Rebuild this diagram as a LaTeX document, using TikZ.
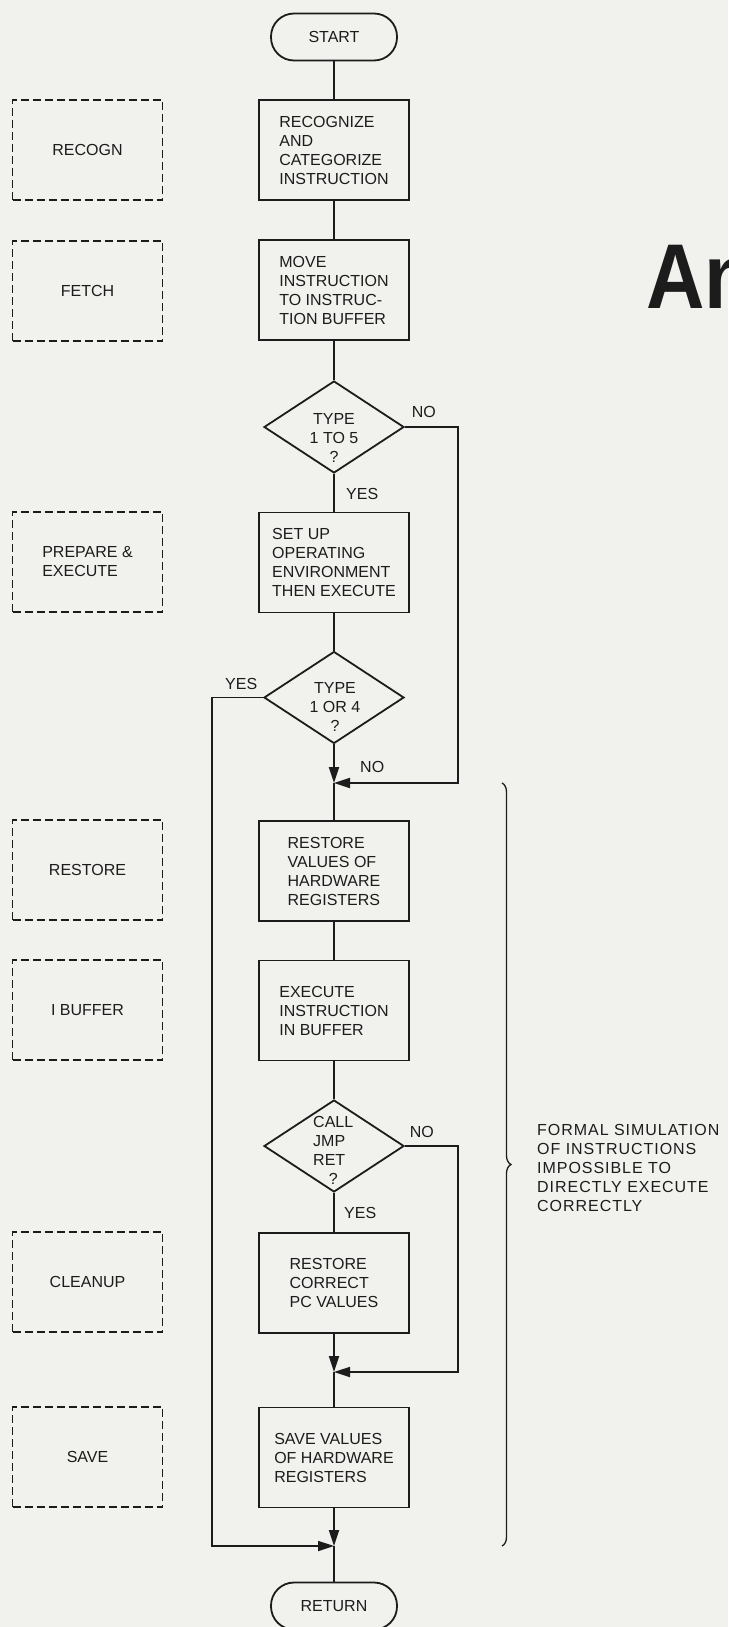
\documentclass[tikz,border=0pt]{standalone}
\usepackage{fontspec}
\setmainfont{Liberation Sans}
\usetikzlibrary{arrows.meta,positioning,shapes.geometric,decorations.pathreplacing}
\definecolor{ink}{HTML}{1C1C1C}
\definecolor{paper}{HTML}{F1F1EE}
\newcommand{\lettering}{\fontsize{16}{19}\selectfont}

\begin{document}
\begin{tikzpicture}[x=1pt,y=-1pt,
 proc/.style={draw=ink,line width=1.8pt,minimum width=150pt,minimum height=100pt,align=left,font=\lettering,text=ink},
 phase/.style={draw=ink,line width=1.7pt,dash pattern=on 8pt off 4pt,minimum width=150pt,minimum height=100pt,align=left,font=\lettering,text=ink},
 term/.style={draw=ink,line width=1.8pt,rounded corners=23pt,minimum width=126pt,minimum height=47pt,font=\lettering,text=ink},
 dec/.style={diamond,draw=ink,line width=1.8pt,minimum width=140pt,minimum height=92pt,inner sep=0pt},
 dtxt/.style={align=center,font=\lettering,text=ink,inner sep=0pt},
 lbl/.style={font=\lettering,text=ink,inner sep=0pt},
 ln/.style={draw=ink,line width=1.8pt},
 a/.style={ln,-{Triangle[length=16pt,width=10pt]}}
]
\useasboundingbox (0,0) rectangle (728,1627);
\clip (0,0) rectangle (728,1627);
\fill[paper] (0,0) rectangle (728,1627);

% main column
\node[term] (start) at (334,37) {START};
\node[proc] (recog) at (334,150) {RECOGNIZE\\AND\\CATEGORIZE\\INSTRUCTION};
\node[proc] (move) at (334,290) {MOVE\\INSTRUCTION\\TO INSTRUC-\\TION BUFFER};
\node[dec] (d1) at (334,427) {};
\node[dtxt] (t1) at (334,438) {TYPE\\1 TO 5\\?};
\node[proc] (setup) at (334,562.5) {SET UP\\OPERATING\\ENVIRONMENT\\THEN EXECUTE};
\node[dec] (d2) at (334,697.5) {};
\node[dtxt] (t2) at (335,707) {TYPE\\1 OR 4\\?};
\coordinate (j1) at (334,783);
\node[proc] (restore) at (334,871) {RESTORE\\VALUES OF\\HARDWARE\\REGISTERS};
\node[proc] (exec) at (334,1010.5) {EXECUTE\\INSTRUCTION\\IN BUFFER};
\node[dec] (d3) at (334,1146) {};
\node[dtxt,align=left,anchor=west] (t3) at (313,1150) {CALL\\JMP\\RET\\\makebox[40pt]{?}};
\node[proc] (pcfix) at (334,1283) {RESTORE\\CORRECT\\PC VALUES};
\coordinate (j2) at (334,1372);
\node[proc] (save) at (334,1457.5) {SAVE VALUES\\OF HARDWARE\\REGISTERS};
\coordinate (j3) at (334,1546);
\node[term] (ret) at (334,1606) {RETURN};

% module names
\node[phase] (pRecogn) at (87.5,150) {RECOGN};
\node[phase] (pFetch) at (87.5,291) {FETCH};
\node[phase] (pPrep) at (87.5,562) {PREPARE \&\\EXECUTE};
\node[phase] (pRestore) at (87.5,870) {RESTORE};
\node[phase] (pBuf) at (87.5,1010) {I BUFFER};
\node[phase] (pClean) at (87.5,1282) {CLEANUP};
\node[phase] (pSave) at (87.5,1457) {SAVE};

% branch labels
\node[lbl,above right=9pt and 6.7pt of d1.east] (no1) {NO};
\node[lbl,below right=14pt and 12pt of d1.south] (yes1) {YES};
\node[lbl,above left=8pt and 5.7pt of d2.west] (yes2) {YES};
\node[lbl,above right=9.7pt and 26pt of j1] (no2) {NO};
\node[lbl,above right=8.3pt and 4.7pt of d3.east] (no3) {NO};
\node[lbl,below right=14.4pt and 10pt of d3.south] (yes3) {YES};

\draw[ln] (start) -- (recog);
\draw[ln] (recog) -- (move);
\draw[ln] (move) -- (d1);
\draw[ln] (d1) -- (setup);
\draw[ln] (setup) -- (d2);
\draw[a] (d2) -- (j1);
\draw[a] (d1.east) -- ++(53,0) |- (j1);
\draw[ln] (j1) -- (restore);
\draw[ln] (restore) -- (exec);
\draw[ln] (exec) -- (d3);
\draw[ln] (d3) -- (pcfix);
\draw[a] (pcfix) -- (j2);
\draw[a] (d3.east) -- ++(53,0) |- (j2);
\draw[ln] (j2) -- (save);
\draw[a] (save) -- (j3);
\draw[a] (d2.west) -- ++(-51,0) |- (j3);
\draw[ln] (j3) -- (ret);

% brace and note
\coordinate (bt) at (502,783);
\coordinate (bb) at (502,1546);
\draw[ln,line width=1.3pt,decorate,decoration={brace,amplitude=9pt}] (bt) -- (bb);
\node[lbl,align=left,anchor=west,font={\lettering\addfontfeatures{LetterSpace=6}}] (note) at (537,1168)
 {FORMAL SIMULATION\\OF INSTRUCTIONS\\IMPOSSIBLE TO\\DIRECTLY EXECUTE\\CORRECTLY};

% cut-off title
\node[anchor=base west,inner sep=0pt,text=ink,font=\fontsize{92}{92}\selectfont\bfseries] (ttl) at (646,308) {\scalebox{0.88}[1]{An}};
\end{tikzpicture}
\end{document}
